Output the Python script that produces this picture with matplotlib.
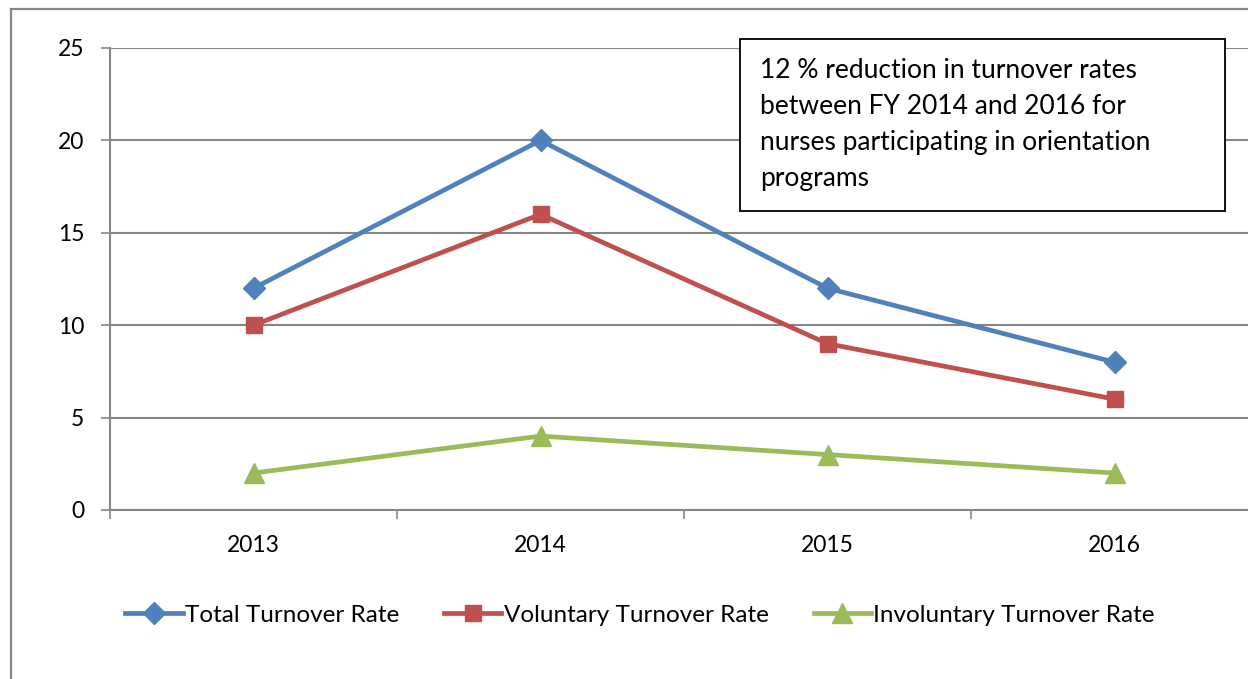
import matplotlib.pyplot as plt
from matplotlib.patches import Rectangle
from matplotlib.ticker import FixedLocator, NullFormatter

plt.rcParams['font.family'] = ['Lato', 'DejaVu Sans']

years = ['2013', '2014', '2015', '2016']
total_rate = [12, 20, 12, 8]
voluntary_rate = [10, 16, 9, 6]
involuntary_rate = [2, 4, 3, 2]
note = ('12 % reduction in turnover rates\n'
        'between FY 2014 and 2016 for\n'
        'nurses participating in orientation\n'
        'programs')

W, H = 1248, 679
GRID = '#868686'
fig = plt.figure(figsize=(W / 100, H / 100), dpi=100)

# outer chart border (runs off the right / bottom edge in the reference)
fig.patches.append(Rectangle((11 / W, -0.05), 1.1, 1 - 9 / H + 0.05, transform=fig.transFigure,
                             fill=False, edgecolor=GRID, linewidth=1.6))

ax = fig.add_axes([110 / W, 1 - 510 / H, 1148 / W, 462 / H])
x = list(range(len(years)))
ax.plot(x, total_rate, color='#4F81BD', linewidth=3.4, marker='D', markersize=11, label='Total Turnover Rate')
ax.plot(x, voluntary_rate, color='#C0504D', linewidth=3.4, marker='s', markersize=12, label='Voluntary Turnover Rate')
ax.plot(x, involuntary_rate, color='#9BBB59', linewidth=3.4, marker='^', markersize=14, label='Involuntary Turnover Rate')

ax.set_xlim(-0.5, 3.5)
ax.set_ylim(0, 25)
ax.set_yticks([0, 5, 10, 15, 20, 25])
ax.yaxis.grid(True, color=GRID, linewidth=1.5)
ax.set_axisbelow(True)

ax.xaxis.set_major_locator(FixedLocator([-0.5, 0.5, 1.5, 2.5, 3.5]))
ax.xaxis.set_major_formatter(NullFormatter())
ax.xaxis.set_minor_locator(FixedLocator(x))
ax.set_xticklabels(years, minor=True)
ax.tick_params(axis='x', which='major', length=6.5, width=1.2, color=GRID)
ax.tick_params(axis='x', which='minor', length=0, pad=18, labelsize=16.5)
ax.tick_params(axis='y', length=6.5, width=1.2, color=GRID, pad=12, labelsize=16.5)

for s in ['top', 'right']:
    ax.spines[s].set_visible(False)
for s in ['left', 'bottom']:
    ax.spines[s].set_color(GRID)
    ax.spines[s].set_linewidth(1.5)

# annotation box
fig.patches.append(Rectangle((740 / W, 1 - 211 / H), 485 / W, 172 / H, transform=fig.transFigure,
                             facecolor='white', edgecolor='black', linewidth=1.3, zorder=5))
fig.text(760 / W, 1 - 58 / H, note, fontsize=19, va='top', ha='left', linespacing=1.55, zorder=6)

fig.legend(loc='center', bbox_to_anchor=(640 / W, 1 - 615 / H), ncol=3, frameon=False,
           fontsize=17.5, handlelength=2.35, handletextpad=0.1, columnspacing=1.85)

fig.savefig('out.png', dpi=100)
